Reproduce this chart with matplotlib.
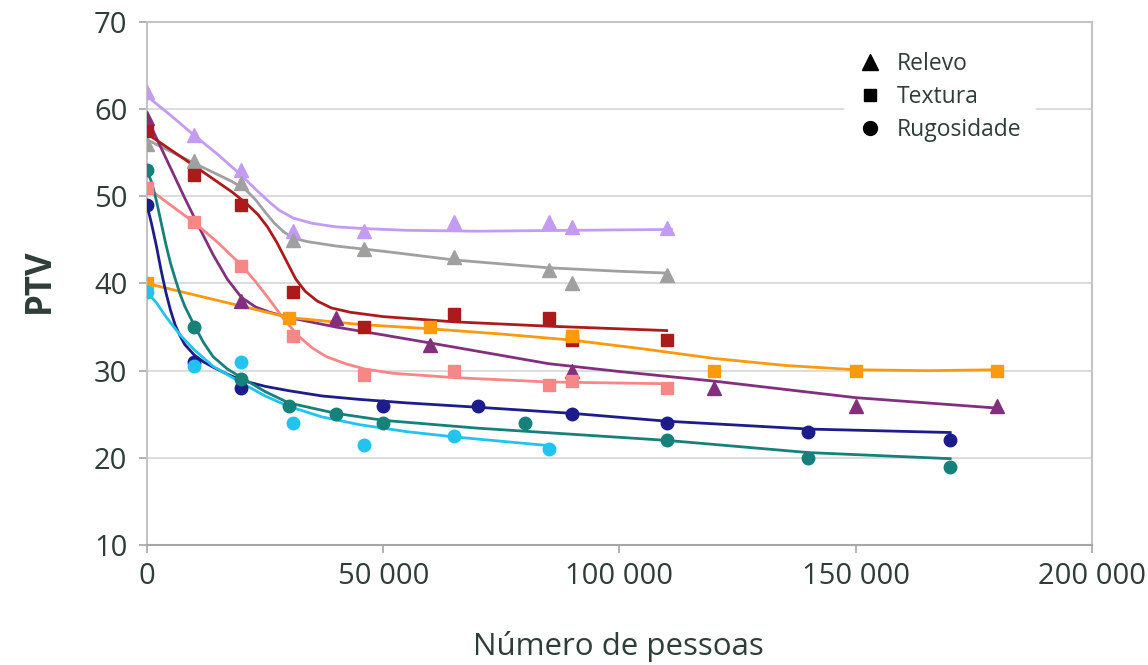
import matplotlib.pyplot as plt
from matplotlib.lines import Line2D

plt.rcParams['font.family'] = ['Open Sans', 'DejaVu Sans']

txt_col = '#2f3d39'

# --- Relevo (triangles) ---
lilac_x = [0, 10000, 20000, 31000, 46000, 65000, 85000, 90000, 110000]
lilac_y = [62, 57, 53, 46, 46, 47, 47, 46.5, 46.4]
lilac_fit_x = [0, 5000, 10000, 15000, 20000, 23000, 26000, 28000, 31000, 35000, 40000, 46000,
               55000, 70000, 90000, 111000]
lilac_fit_y = [61.5, 59.3, 57.0, 54.8, 52.4, 50.8, 49.3, 48.4, 47.5, 46.9, 46.5, 46.3,
               46.1, 46.0, 46.1, 46.2]

grey_x = [0, 10000, 20000, 31000, 46000, 65000, 85000, 90000, 110000]
grey_y = [56, 54, 51.5, 45, 44, 43, 41.5, 40, 41]
grey_fit_x = [0, 10000, 18000, 21000, 23000, 25000, 27000, 29000, 31000, 34000, 40000, 50000,
              65000, 85000, 100000, 110000]
grey_fit_y = [56.5, 53.8, 51.7, 50.7, 49.6, 48.2, 46.9, 45.9, 45.2, 44.8, 44.3, 43.7,
              42.7, 41.8, 41.4, 41.2]

purple_x = [0, 20000, 40000, 60000, 90000, 120000, 150000, 180000]
purple_y = [59, 38, 36, 33, 30, 28, 26, 26]
purple_fit_x = [0, 4000, 8000, 11000, 14000, 17000, 20000, 23000, 26000, 30000, 40000, 50000,
                65000, 85000, 100000, 120000, 150000, 180000]
purple_fit_y = [59, 54.4, 49.8, 46.5, 43.3, 40.5, 38.4, 37.3, 36.7, 36.1, 35.0, 34.1,
                32.7, 30.8, 29.9, 28.8, 26.9, 25.7]

# --- Textura (squares) ---
red_x = [0, 10000, 20000, 31000, 46000, 65000, 85000, 90000, 110000]
red_y = [57.5, 52.5, 49, 39, 35, 36.5, 36, 33.5, 33.5]
red_fit_x = [0, 10000, 18000, 21000, 23500, 25500, 27500, 29500, 31500, 33500, 36000, 39000,
             43000, 50000, 65000, 85000, 110000]
red_fit_y = [57.2, 53.5, 50.5, 49.2, 47.9, 46.5, 44.7, 42.6, 40.5, 39.1, 38.0, 37.2,
             36.7, 36.2, 35.6, 35.1, 34.6]

salmon_x = [0, 10000, 20000, 31000, 46000, 65000, 85000, 90000, 110000]
salmon_y = [51, 47, 42, 34, 29.5, 30, 28.3, 28.8, 28]
salmon_fit_x = [0, 10000, 15000, 20000, 23000, 26000, 29000, 32000, 35000, 38000, 42000, 46000,
                52000, 65000, 85000, 110000]
salmon_fit_y = [51, 47, 44.7, 42.1, 40.2, 38.1, 35.9, 34.0, 32.6, 31.6, 30.8, 30.2,
                29.7, 29.2, 28.7, 28.5]

orange_x = [0, 30000, 60000, 90000, 120000, 150000, 180000]
orange_y = [40, 36, 35, 34, 30, 30, 30]
orange_fit_x = [0, 10000, 20000, 30000, 45000, 60000, 75000, 90000, 105000, 120000, 135000,
                150000, 165000, 180000]
orange_fit_y = [40, 38.7, 37.4, 36.1, 35.3, 34.8, 34.2, 33.5, 32.5, 31.4, 30.6,
                30.1, 30.0, 30.1]

# --- Rugosidade (circles) ---
navy_x = [0, 10000, 20000, 50000, 70000, 90000, 110000, 140000, 170000]
navy_y = [49, 31, 28, 26, 26, 25, 24, 23, 22]
navy_fit_x = [0, 1000, 2000, 3000, 4000, 5000, 6000, 7000, 8000, 10000, 12000, 14000, 17000,
              20000, 25000, 30000, 37000, 45000, 55000, 70000, 90000, 110000, 140000, 170000]
navy_fit_y = [49, 46.8, 44.3, 41.5, 39.0, 36.9, 35.2, 34.0, 33.0, 31.8, 31.0, 30.4, 29.6,
              28.9, 28.2, 27.7, 27.1, 26.7, 26.3, 25.8, 25.1, 24.2, 23.3, 22.9]

teal_x = [0, 10000, 20000, 30000, 40000, 50000, 80000, 110000, 140000, 170000]
teal_y = [53, 35, 29, 26, 25, 24, 24, 22, 20, 19]
teal_fit_x = [0, 1000, 2000, 3000, 4000, 5000, 6000, 7000, 8000, 10000, 12000, 14000, 17000,
              20000, 25000, 30000, 40000, 50000, 70000, 90000, 110000, 140000, 170000]
teal_fit_y = [53, 51.6, 49.5, 47.0, 44.5, 42.3, 40.5, 38.8, 37.4, 35.2, 33.2, 31.6, 30.2,
              29.2, 27.6, 26.3, 25.1, 24.3, 23.4, 22.7, 22.0, 20.6, 19.9]

cyan_x = [0, 10000, 20000, 31000, 46000, 65000, 85000]
cyan_y = [39, 30.5, 31, 24, 21.5, 22.5, 21]
cyan_fit_x = [0, 2000, 4000, 7000, 10000, 14000, 20000, 25000, 30000, 37000, 45000, 55000,
              65000, 75000, 85000]
cyan_fit_y = [39, 37.8, 36.2, 34.1, 32.4, 30.5, 28.6, 27.1, 25.9, 24.7, 23.8, 23.0,
              22.4, 21.9, 21.4]

series = [
    (lilac_x, lilac_y, lilac_fit_x, lilac_fit_y, '#c39bf3', '^'),
    (grey_x, grey_y, grey_fit_x, grey_fit_y, '#a0a0a0', '^'),
    (purple_x, purple_y, purple_fit_x, purple_fit_y, '#82307e', '^'),
    (red_x, red_y, red_fit_x, red_fit_y, '#ad1a1c', 's'),
    (salmon_x, salmon_y, salmon_fit_x, salmon_fit_y, '#f78686', 's'),
    (orange_x, orange_y, orange_fit_x, orange_fit_y, '#fb9a0c', 's'),
    (navy_x, navy_y, navy_fit_x, navy_fit_y, '#1c1c8a', 'o'),
    (teal_x, teal_y, teal_fit_x, teal_fit_y, '#16807b', 'o'),
    (cyan_x, cyan_y, cyan_fit_x, cyan_fit_y, '#22c3ee', 'o'),
]

fig = plt.figure(figsize=(11.48, 6.65), dpi=100)
ax = fig.add_axes([0.128, 0.1805, 0.8232, 0.7864])

for xs, ys, fx, fy, col, mk in series:
    ax.plot(fx, fy, color=col, lw=2, zorder=3, solid_joinstyle='round')
    ms = 10 if mk == '^' else 9
    ax.plot(xs, ys, linestyle='none', marker=mk, ms=ms, color=col, mec=col, zorder=4)

ax.set_xlim(0, 200000)
ax.set_ylim(10, 70)
ax.set_xticks([0, 50000, 100000, 150000, 200000])
ax.set_xticklabels(['0', '50 000', '100 000', '150 000', '200 000'])
ax.set_yticks(range(10, 71, 10))
ax.grid(axis='y', color='#d9d9d9', lw=1.3, zorder=0)
ax.set_axisbelow(True)
for s in ['top', 'right', 'left']:
    ax.spines[s].set_color('#c4c4c4')
    ax.spines[s].set_linewidth(1.5)
ax.spines['bottom'].set_color('#a6a6a6')
ax.spines['bottom'].set_linewidth(1.5)
ax.tick_params(axis='both', labelsize=21, labelcolor=txt_col, color='#a6a6a6', length=6, width=1.2)
ax.tick_params(axis='x', pad=6)
ax.tick_params(axis='y', pad=8)

fig.text(40 / 1148, 1 - 281 / 665, 'PTV', rotation=90, ha='center', va='center',
         fontsize=25, fontweight='bold', color=txt_col)
fig.text(618 / 1148, 1 - 655 / 665, 'Número de pessoas', ha='center', va='baseline',
         fontsize=22.5, color=txt_col)

handles = [Line2D([], [], ls='none', marker='^', ms=11, color='black'),
           Line2D([], [], ls='none', marker='s', ms=9, color='black'),
           Line2D([], [], ls='none', marker='o', ms=10, color='black')]
leg = ax.legend(handles, ['Relevo', 'Textura', 'Rugosidade'], loc='upper left',
                bbox_to_anchor=(833 / 1148, 1 - 27 / 665), bbox_transform=fig.transFigure,
                frameon=True, facecolor='white', edgecolor='none', framealpha=1,
                fontsize=16.5, handlelength=1.0, handletextpad=0.7, labelspacing=0.38,
                borderpad=0.6, fancybox=False)
for t in leg.get_texts():
    t.set_color(txt_col)

plt.savefig('out.png', dpi=100)
